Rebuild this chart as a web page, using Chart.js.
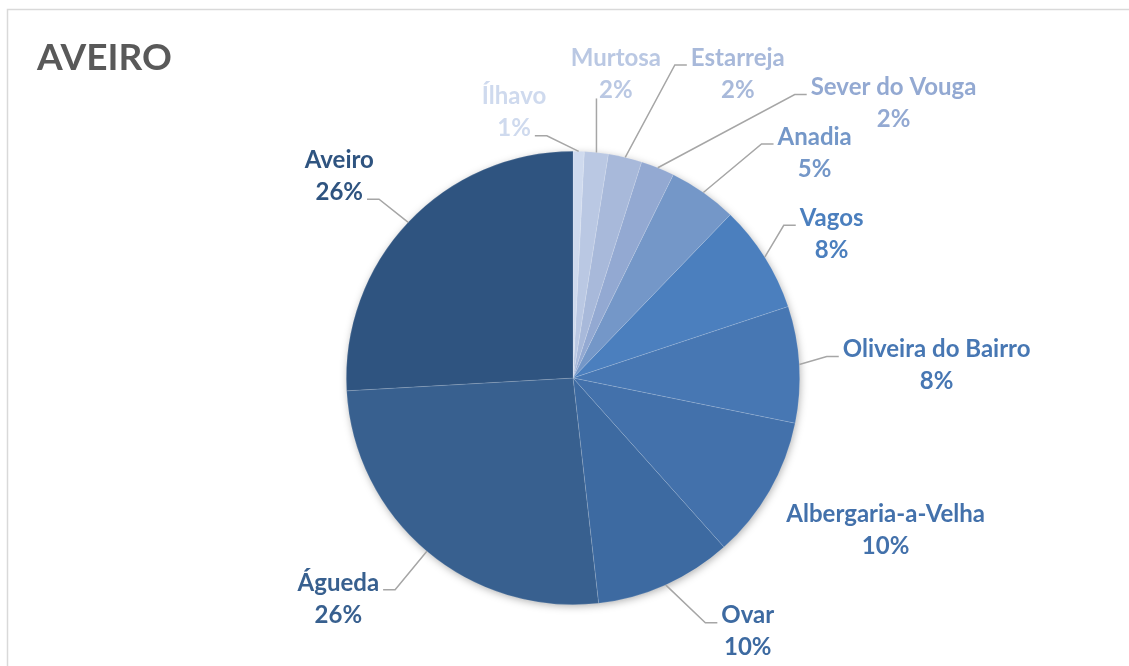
<!DOCTYPE html>
<html>
<head>
<meta charset="utf-8">
<script src="https://cdn.jsdelivr.net/npm/chart.js@4.4.0/dist/chart.umd.min.js"></script>
<style>
  html, body { margin: 0; padding: 0; background: #fff; }
  #wrap { width: 1129px; height: 666px; position: relative; }
</style>
</head>
<body>
<div id="wrap"><canvas id="pieChart" width="1129" height="666"></canvas></div>
<script>
const municipios = ['Ílhavo', 'Murtosa', 'Estarreja', 'Sever do Vouga', 'Anadia', 'Vagos',
    'Oliveira do Bairro', 'Albergaria-a-Velha', 'Ovar', 'Águeda', 'Aveiro'];
const percentagens = [0.8, 1.7, 2.4, 2.4, 4.9, 7.7, 8.3, 10.2, 9.8, 25.9, 25.9];
const cores = ['#CFDAEE', '#BAC8E3', '#A8B9DA', '#93A9D2', '#7497C8', '#4B7FBE',
    '#4777B3', '#4371AB', '#3D6AA1', '#38608F', '#2F5480'];

// where each label sits, in pie radii from the centre; attach = text line the leader meets
const labelPos = [
    { dx: -0.260, dy: -1.170, attach: 1 },
    { dx: 0.189, dy: -1.339, attach: 'below' },
    { dx: 0.727, dy: -1.341, attach: 0 },
    { dx: 1.414, dy: -1.211, attach: 0 },
    { dx: 1.066, dy: -0.993, attach: 0 },
    { dx: 1.141, dy: -0.634, attach: 0 },
    { dx: 1.604, dy: -0.055, attach: 0 },
    { dx: 1.379, dy: 0.670, attach: -1 },
    { dx: 0.771, dy: 1.119, attach: 0 },
    { dx: -1.035, dy: 0.974, attach: 0 },
    { dx: -1.031, dy: -0.890, attach: 1 }
];

const labelFont = 'bold 24px Lato';
const lineH = 32;

const pieLabels = {
    id: 'pieLabels',
    beforeDraw(chart) {
        const ctx = chart.ctx;
        ctx.save();
        ctx.strokeStyle = '#D9D9D9';
        ctx.lineWidth = 1.5;
        ctx.strokeRect(7.5, 9.5, 1200, 700);
        ctx.fillStyle = '#595959';
        ctx.font = 'bold 37px Lato';
        ctx.textBaseline = 'middle';
        ctx.textAlign = 'left';
        ctx.fillText('AVEIRO', 37, 58);
        ctx.restore();
    },
    beforeDatasetsDraw(chart) {
        const arc = chart.getDatasetMeta(0).data[0];
        if (!arc) return;
        const p = arc.getProps(['x', 'y', 'outerRadius'], true);
        const ctx = chart.ctx;
        ctx.save();
        ctx.shadowColor = 'rgba(0,0,0,0.35)';
        ctx.shadowBlur = 9;
        ctx.shadowOffsetX = 1;
        ctx.shadowOffsetY = 2;
        ctx.fillStyle = '#ffffff';
        ctx.beginPath();
        ctx.arc(p.x, p.y, p.outerRadius - 1, 0, Math.PI * 2);
        ctx.fill();
        ctx.restore();
    },
    afterDatasetsDraw(chart) {
        const ctx = chart.ctx;
        const meta = chart.getDatasetMeta(0);
        const total = percentagens.reduce((a, b) => a + b, 0);
        ctx.save();
        ctx.font = labelFont;
        ctx.textAlign = 'center';
        ctx.textBaseline = 'middle';
        meta.data.forEach((arc, i) => {
            const p = arc.getProps(['x', 'y', 'startAngle', 'endAngle', 'outerRadius'], true);
            const mid = (p.startAngle + p.endAngle) / 2;
            const ax = p.x + Math.cos(mid) * p.outerRadius;
            const ay = p.y + Math.sin(mid) * p.outerRadius;
            const lp = labelPos[i];
            const cx = p.x + lp.dx * p.outerRadius;
            const cy = p.y + lp.dy * p.outerRadius;
            const lines = [municipios[i], Math.round(percentagens[i] / total * 100) + '%'];
            const ys = [cy - lineH / 2, cy + lineH / 2];

            ctx.strokeStyle = '#A6A6A6';
            ctx.lineWidth = 1.5;
            if (lp.attach === 'below') {
                ctx.beginPath();
                ctx.moveTo(ax, ay);
                ctx.lineTo(ax, ys[1] + 8);
                ctx.stroke();
            } else if (lp.attach >= 0) {
                const w = ctx.measureText(lines[lp.attach]).width;
                const toRight = cx > ax;
                const ex = toRight ? cx - w / 2 - 4 : cx + w / 2 + 4;
                const ey = ys[lp.attach] + 7;
                const bx = toRight ? ex - 12 : ex + 12;
                ctx.beginPath();
                ctx.moveTo(ax, ay);
                ctx.lineTo(bx, ey);
                ctx.lineTo(ex, ey);
                ctx.stroke();
            }

            ctx.fillStyle = cores[i];
            ctx.fillText(lines[0], cx, ys[0]);
            ctx.fillText(lines[1], cx, ys[1]);
        });
        ctx.restore();
    }
};

const ctx = document.getElementById('pieChart').getContext('2d');
const pieChart = new Chart(ctx, {
    type: 'pie',
    data: {
        labels: municipios,
        datasets: [{
            data: percentagens,
            backgroundColor: cores,
            borderColor: 'rgba(255,255,255,0.22)',
            borderWidth: 0.6
        }]
    },
    options: {
        responsive: false,
        animation: false,
        devicePixelRatio: 1,
        layout: { padding: { top: 151, bottom: 61, left: 346, right: 329 } },
        plugins: {
            legend: { display: false },
            tooltip: { enabled: false }
        }
    },
    plugins: [pieLabels]
});
</script>
</body>
</html>
